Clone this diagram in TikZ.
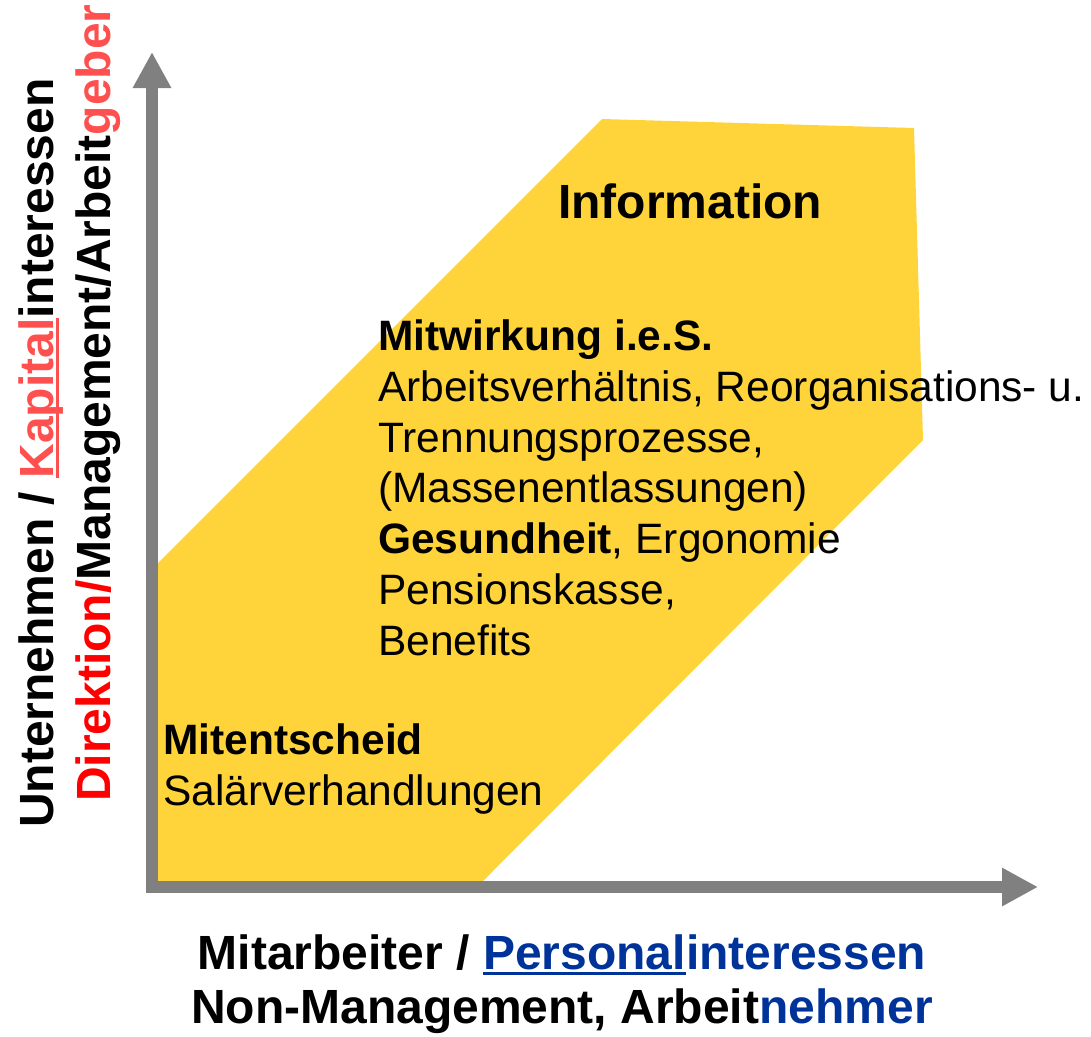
\documentclass[tikz,border=0pt]{standalone}
\usepackage{fontspec}
\setmainfont{Liberation Sans}
\usetikzlibrary{arrows.meta}
\definecolor{axisgray}{HTML}{808080}
\definecolor{fieldyellow}{HTML}{FFD43B}
\definecolor{lightred}{HTML}{FF5050}
\definecolor{darkblue}{HTML}{003399}
\newcommand\myul[1]{\setbox0\hbox{#1}\rlap{\rule[-6pt]{\wd0}{3pt}}\box0}
\begin{document}
\begin{tikzpicture}[x=1pt,y=-1pt,
  bigtext/.style={font=\fontsize{48}{57}\selectfont\bfseries, inner sep=0},
  bodytext/.style={font=\fontsize{42.5}{51}\selectfont, inner sep=0, anchor=base west},
  axisline/.style={draw=axisgray, line width=12pt, line join=miter,
     {Triangle[length=36pt,width=36pt]}-{Triangle[length=36pt,width=36pt]}}]
\useasboundingbox (0,0) rectangle (1091,1036);
% yellow field
\fill[fieldyellow] (158,563) -- (602,119) -- (914,128) -- (923,440) -- (483,881) -- (158,881) -- cycle;
% axes
\coordinate (ytip) at (152,52);
\coordinate (O) at (152,887);
\coordinate (xtip) at (1038,887);
\draw[axisline] (ytip) -- (O) -- (xtip);
% field texts
\node[bigtext, anchor=base west] (info) at (558,218) {Information};
\node[bodytext] (mw) at (378,350) {\bfseries Mitwirkung i.e.S.};
\node[bodytext] (l1) at (378,401) {Arbeitsverhältnis, Reorganisations- u.};
\node[bodytext] (l2) at (378,452) {Trennungsprozesse,};
\node[bodytext] (l3) at (378,502) {(Massenentlassungen)};
\node[bodytext] (l4) at (378,553) {{\bfseries Gesundheit}, Ergonomie};
\node[bodytext] (l5) at (378,604) {Pensionskasse,};
\node[bodytext] (l6) at (378,655) {Benefits};
\node[bodytext] (me) at (163,754) {\bfseries Mitentscheid};
\node[bodytext] (sal) at (163,805) {Salärverhandlungen};
% y axis labels
\node[bigtext, rotate=90, anchor=base west] (ylab1) at (53,828)
  {Unternehmen / \textcolor{lightred}{\myul{Kapital}}interessen};
\node[bigtext, rotate=90, anchor=base west] (ylab2) at (110,802)
  {\textcolor{red}{Direktion/}Management/Arbeit\textcolor{lightred}{geber}};
% x axis labels
\node[bigtext, anchor=base] (xlab1) at (562,969)
  {Mitarbeiter / \textcolor{darkblue}{\myul{Personal}interessen}};
\node[bigtext, anchor=base] (xlab2) at (562,1023)
  {Non-Management, Arbeit\textcolor{darkblue}{nehmer}};
\end{tikzpicture}
\end{document}
